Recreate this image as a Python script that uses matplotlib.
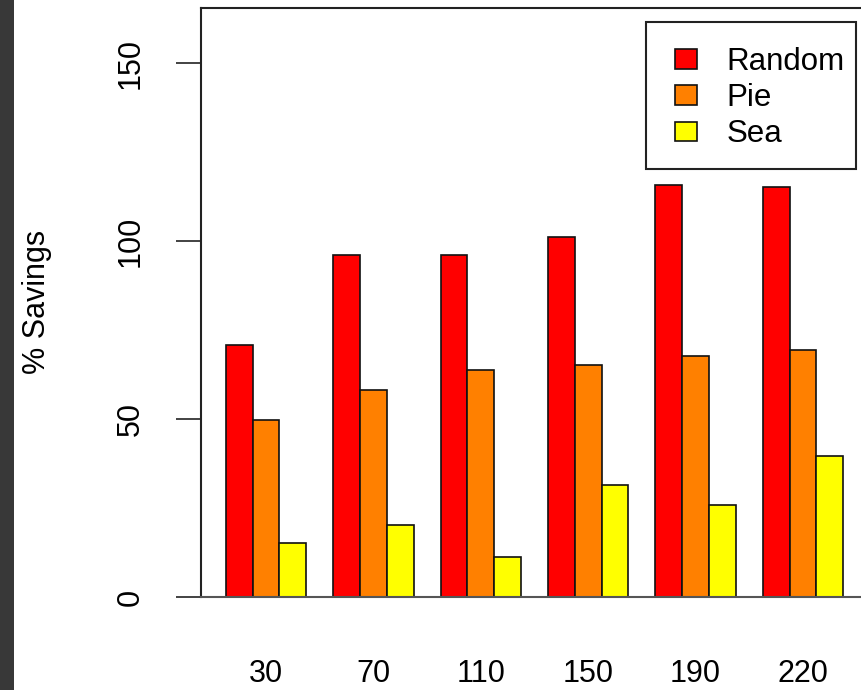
import matplotlib
matplotlib.use('Agg')
import matplotlib.pyplot as plt
from matplotlib.patches import Rectangle, Patch
import numpy as np

plt.rcParams['font.family'] = ['Liberation Sans', 'DejaVu Sans']

# data
sizes = ['30', '70', '110', '150', '190', '220']
series = ['Random', 'Pie', 'Sea']
random_vals = [70.8, 96.2, 96.1, 101.2, 115.7, 115.3]
pie_vals = [49.6, 58.1, 63.7, 65.2, 67.8, 69.3]
sea_vals = [15.3, 20.3, 11.1, 31.4, 25.8, 39.5]
colors = ['#ff0000', '#ff8000', '#ffff00']

W, H = 861, 690
fig = plt.figure(figsize=(W / 100, H / 100), dpi=100)
fig.patches.append(Rectangle((0, 0), 14 / W, 1, transform=fig.transFigure,
                             facecolor='#383838', edgecolor='none', zorder=0))

# axes box: left 200px, top 8px, bottom (y=0) at 597px, right beyond the image
ax_w = 24.84 * 26.85
ax_h = 589
x0, y0 = 201, 597
ax = fig.add_axes([x0 / W, (H - y0) / H, ax_w / W, ax_h / H])

def ax_xy(px, py):
    # image pixel -> axes fraction
    return (px - x0) / ax_w, (y0 - py) / ax_h

# R style barplot(beside=TRUE): 3 bars per group, one bar width of space
for s, vals in enumerate([random_vals, pie_vals, sea_vals]):
    left = np.arange(len(sizes)) * 4 + 1 + s
    ax.bar(left, vals, width=1, align='edge', color=colors[s],
           edgecolor='#111111', linewidth=1.2, label=series[s], zorder=2)

ax.set_xlim(0.08, 24.92)
ax.set_ylim(0, ax_h / 3.56)

ax.set_yticks([0, 50, 100, 150])
ax.set_yticklabels(['0', '50', '100', '150'], rotation=90, va='center')
ax.tick_params(axis='y', length=18, width=1.2, pad=22, labelsize=22, color='#222222')
ax.set_xticks(np.arange(len(sizes)) * 4 + 2.5)
ax.set_xticklabels(sizes)
ax.tick_params(axis='x', length=0, pad=45, labelsize=22)

for sp in ax.spines.values():
    sp.set_linewidth(1.5)
    sp.set_color('#222222')
ax.spines['bottom'].set_color('#555555')

ax.set_ylabel('% Savings', fontsize=22)
ax.yaxis.set_label_coords(*ax_xy(52, 302))

# legend box drawn by hand (R legend has more room on the left than the right)
bl = ax_xy(646, 169)
tr = ax_xy(856, 22)
ax.add_patch(Rectangle(bl, tr[0] - bl[0], tr[1] - bl[1], transform=ax.transAxes,
                       facecolor='white', edgecolor='#222222', linewidth=1.5,
                       zorder=5, clip_on=False))
handles = [Patch(facecolor=colors[i], edgecolor='#111111', linewidth=1.2) for i in range(3)]
leg = ax.legend(handles, series, loc='upper left', bbox_to_anchor=ax_xy(675, 47),
                fontsize=22.5, frameon=False, borderaxespad=0, borderpad=0,
                handlelength=0.7, handleheight=0.6, handletextpad=0.95,
                labelspacing=0.2)
leg.set_zorder(6)

fig.savefig('out.png', dpi=100)
